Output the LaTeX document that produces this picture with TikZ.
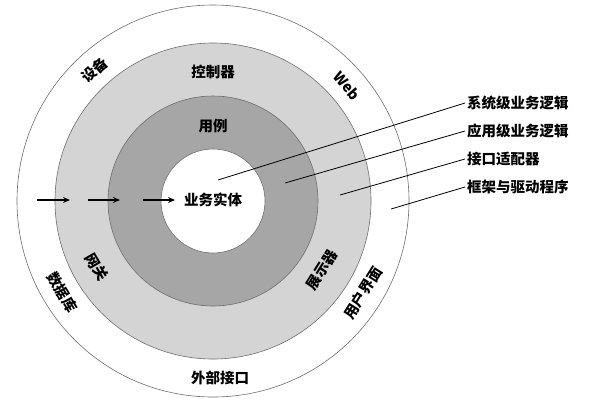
\documentclass[tikz,border=0pt]{standalone}
\usepackage{fontspec}
\setmainfont{Noto Sans CJK SC}
\usetikzlibrary{arrows.meta}
\definecolor{ringlight}{RGB}{212,212,212}
\definecolor{ringdark}{RGB}{166,166,166}
\definecolor{edgegray}{RGB}{110,110,110}
\tikzset{
  ring/.style={draw=edgegray, line width=0.6pt},
  lbl/.style={font=\fontsize{14.5}{16}\selectfont\bfseries, inner sep=1pt},
  rlbl/.style={lbl, anchor=west, inner sep=2pt},
  leader/.style={draw=black, line width=0.8pt},
  flow/.style={draw=black, line width=1.5pt, -{Stealth[length=7pt,width=6pt]}}
}
\begin{document}
\begin{tikzpicture}[x=1pt,y=-1pt]
\useasboundingbox (0,0) rectangle (596,405);
\coordinate (c) at (213,201);
\draw[ring, fill=white] (c) circle[radius=196pt];
\draw[ring, fill=ringlight] (c) circle[radius=158pt];
\draw[ring, fill=ringdark] (c) circle[radius=105pt];
\draw[ring, fill=white] (c) circle[radius=52pt];

% circle labels
\node[lbl] (entity) at (213,200) {业务实体};
\node[lbl] (usecase) at (213,126) {用例};
\node[lbl] (ctrl) at (213,72) {控制器};
\node[lbl] (ext) at (220,378) {外部接口};
\node[lbl, rotate=42] (dev) at (95,70) {设备};
\node[lbl, rotate=-49] (web) at (347,86) {Web};
\node[lbl, rotate=-59] (db) at (62,292) {数据库};
\node[lbl, rotate=-60] (gw) at (97,267) {网关};
\node[lbl, rotate=58] (pres) at (322,270) {展示器};
\node[lbl, rotate=58] (ui) at (363,293) {用户界面};

% flow arrows
\coordinate (a1s) at (37,200); \coordinate (a1e) at (70,200);
\coordinate (a2s) at (88,200); \coordinate (a2e) at (120,200);
\coordinate (a3s) at (143,200); \coordinate (a3e) at (175,200);
\draw[flow] (a1s) -- (a1e);
\draw[flow] (a2s) -- (a2e);
\draw[flow] (a3s) -- (a3e);

% right labels
\node[rlbl] (l1) at (465,103) {系统级业务逻辑};
\node[rlbl] (l2) at (465,131) {应用级业务逻辑};
\node[rlbl] (l3) at (465,159) {接口适配器};
\node[rlbl] (l4) at (465,187) {框架与驱动程序};
\coordinate (p1) at (218,180);
\coordinate (p2) at (285,183);
\coordinate (p3) at (340,195);
\coordinate (p4) at (391,209);
\draw[leader] (p1) -- (l1.west);
\draw[leader] (p2) -- (l2.west);
\draw[leader] (p3) -- (l3.west);
\draw[leader] (p4) -- (l4.west);
\end{tikzpicture}
\end{document}
